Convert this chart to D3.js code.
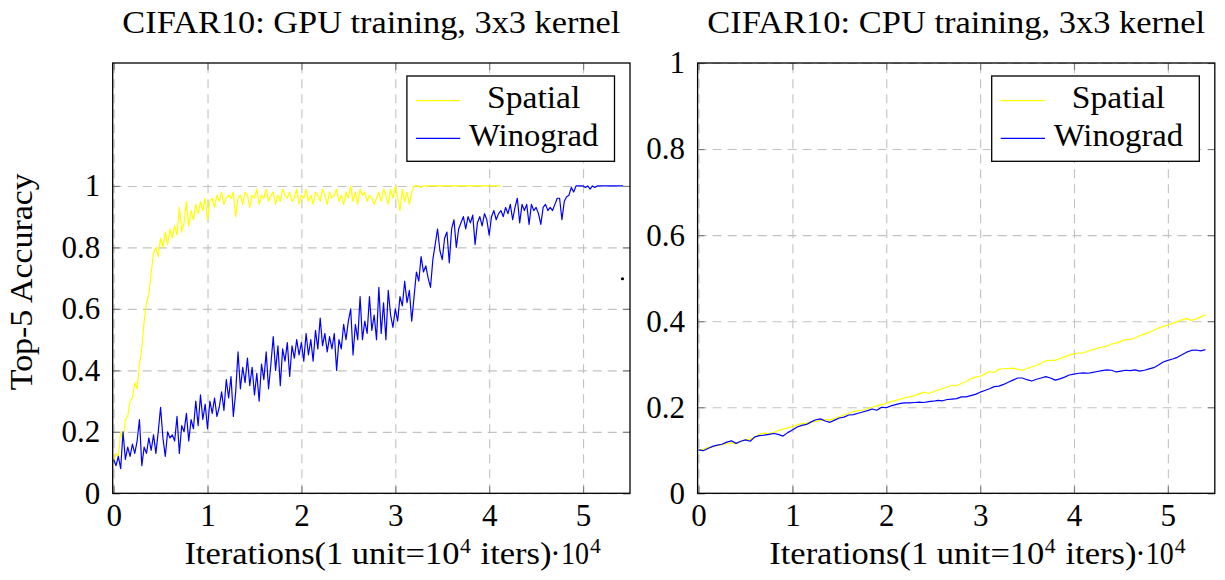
<!DOCTYPE html>
<html><head><meta charset="utf-8">
<script src="https://cdn.jsdelivr.net/npm/d3@7"></script>
<style>
body{margin:0;background:#fff;}
svg{display:block;}
svg text{font-family:"Liberation Serif","Times New Roman","DejaVu Serif",serif !important;fill:#000;}
</style></head><body>
<svg id="chart" width="1225" height="580" font-family="Liberation Serif, serif"></svg>
<script>
// ---------- data ----------
const titles = ["CIFAR10: GPU training, 3x3 kernel", "CIFAR10: CPU training, 3x3 kernel"];
const yAxisLabel = "Top-5 Accuracy";
const xAxisLabel = ["Iterations(1 unit=10", "4", "iters)"];
const xScaleLabel = ["\u00B7", "10", "4"];
const seriesNames = ["Spatial", "Winograd"];
const seriesColors = ["#ffff00", "#0000ff"];
const xTicks = [0, 1, 2, 3, 4, 5];
const xTickLabels = ["0", "1", "2", "3", "4", "5"];
const yTicks = [0, 0.2, 0.4, 0.6, 0.8, 1];
const yTickLabels = ["0", "0.2", "0.4", "0.6", "0.8", "1"];
// x spacing of samples (units of 10^4 iterations)
const gpuStep = 0.025;
const cpuStep = 0.05;

const gpuSpatial = [
 0.10,0.13,0.12,0.20,0.17,0.24,0.25,0.30,0.31,0.36,
 0.34,0.42,0.47,0.56,0.62,0.65,0.72,0.78,0.80,0.77,
 0.83,0.80,0.85,0.81,0.86,0.83,0.87,0.84,0.93,0.85,
 0.88,0.95,0.87,0.92,0.89,0.94,0.91,0.95,0.92,0.96,
 0.89,0.95,0.96,0.93,0.97,0.95,0.98,0.94,0.96,0.97,
 0.96,0.98,0.90,0.96,0.97,0.94,0.98,0.97,0.93,0.97,
 0.96,0.99,0.94,0.97,0.96,0.99,0.95,0.97,0.98,0.94,
 0.97,0.95,0.99,0.97,0.96,0.98,0.95,0.96,0.99,0.94,
 0.97,0.96,0.99,0.95,0.97,0.94,0.98,0.97,0.95,0.99,
 0.97,0.94,0.98,0.96,0.97,0.99,0.95,0.97,0.94,0.98,
 0.96,1.00,0.95,0.98,0.94,0.99,0.97,0.98,0.95,0.97,
 0.96,0.94,0.96,0.98,0.95,0.99,0.97,0.94,0.99,0.96,
 1.00,0.96,0.92,0.99,0.95,0.98,0.94,0.98,1.00,1.00,
 1.00,0.995,1.00,1.00,1.00,1.00,1.00,1.00,1.00,1.00,
 1.00,1.00,1.00,1.00,1.00,1.00,1.00,1.00,1.00,1.00,
 1.00,1.00,1.00,1.00,1.00,1.00,1.00,1.00,1.00,1.00,
 1.00,1.00,1.00,1.00,1.00,1.00
];

const gpuWinograd = [
 0.11,0.09,0.12,0.08,0.20,0.11,0.15,0.12,0.16,0.13,
 0.17,0.24,0.09,0.15,0.13,0.18,0.14,0.19,0.13,0.20,
 0.28,0.18,0.12,0.20,0.18,0.19,0.17,0.25,0.13,0.22,
 0.20,0.26,0.17,0.24,0.21,0.30,0.22,0.32,0.24,0.29,
 0.21,0.30,0.26,0.31,0.25,0.28,0.33,0.27,0.37,0.31,
 0.38,0.25,0.33,0.46,0.34,0.41,0.36,0.44,0.35,0.41,
 0.32,0.39,0.30,0.42,0.37,0.46,0.34,0.42,0.51,0.40,
 0.48,0.35,0.47,0.43,0.49,0.38,0.48,0.44,0.50,0.45,
 0.49,0.43,0.52,0.45,0.50,0.43,0.53,0.47,0.57,0.48,
 0.52,0.46,0.51,0.47,0.52,0.40,0.50,0.47,0.55,0.50,
 0.56,0.60,0.45,0.55,0.50,0.64,0.50,0.56,0.52,0.64,
 0.53,0.58,0.50,0.67,0.52,0.62,0.50,0.66,0.58,0.54,
 0.60,0.56,0.64,0.61,0.69,0.62,0.66,0.56,0.64,0.72,
 0.69,0.77,0.72,0.74,0.70,0.67,0.76,0.81,0.86,0.79,
 0.76,0.83,0.85,0.75,0.86,0.89,0.80,0.86,0.88,0.90,
 0.86,0.90,0.88,0.905,0.81,0.88,0.90,0.87,0.91,0.89,
 0.84,0.90,0.92,0.89,0.91,0.92,0.90,0.93,0.91,0.94,
 0.89,0.93,0.96,0.88,0.94,0.92,0.94,0.875,0.94,0.92,
 0.93,0.91,0.875,0.93,0.94,0.92,0.93,0.92,0.94,0.96,
 0.96,0.89,0.95,0.965,0.97,0.995,0.98,1.00,1.00,1.00,
 1.00,0.995,1.00,0.99,1.00,0.995,1.00,1.00,1.00,1.00,
 1.00,1.00,1.00,1.00,1.00,1.00,1.00,1.00
];

const cpuSpatial = [
 0.100,0.102,0.106,0.108,0.111,0.113,0.116,0.117,0.115,0.120,
 0.124,0.126,0.131,0.137,0.140,0.139,0.141,0.146,0.149,0.152,
 0.155,0.159,0.162,0.163,0.165,0.167,0.170,0.171,0.170,0.174,
 0.178,0.182,0.186,0.190,0.192,0.193,0.197,0.200,0.203,0.206,
 0.209,0.213,0.216,0.219,0.222,0.224,0.227,0.231,0.235,0.232,
 0.236,0.240,0.243,0.247,0.251,0.250,0.255,0.260,0.266,0.270,
 0.272,0.277,0.283,0.281,0.288,0.290,0.290,0.291,0.288,0.286,
 0.290,0.294,0.297,0.302,0.308,0.309,0.309,0.313,0.317,0.321,
 0.324,0.326,0.326,0.330,0.334,0.337,0.340,0.342,0.347,0.349,
 0.353,0.357,0.358,0.361,0.366,0.370,0.374,0.379,0.384,0.388,
 0.391,0.395,0.399,0.403,0.406,0.402,0.405,0.410,0.414
];

const cpuWinograd = [
 0.101,0.099,0.104,0.109,0.112,0.114,0.119,0.122,0.116,0.121,
 0.124,0.121,0.131,0.134,0.135,0.137,0.139,0.137,0.133,0.141,
 0.147,0.154,0.158,0.160,0.166,0.171,0.173,0.168,0.165,0.170,
 0.175,0.177,0.182,0.183,0.186,0.189,0.192,0.196,0.193,0.200,
 0.199,0.203,0.206,0.209,0.210,0.210,0.211,0.212,0.211,0.213,
 0.214,0.216,0.215,0.218,0.219,0.220,0.224,0.224,0.227,0.230,
 0.235,0.239,0.243,0.248,0.249,0.253,0.258,0.263,0.268,0.268,
 0.264,0.261,0.265,0.268,0.271,0.268,0.263,0.266,0.270,0.275,
 0.277,0.279,0.280,0.279,0.281,0.283,0.285,0.287,0.286,0.282,
 0.284,0.286,0.285,0.287,0.284,0.286,0.289,0.292,0.298,0.305,
 0.309,0.312,0.316,0.322,0.328,0.332,0.333,0.331,0.334
];
// stray mark present in the original left panel (data coordinates)
const strayMark = [5.42, 0.698];

// ---------- layout ----------
const svg = d3.select("#chart");
const FS = 31;
const FONT = "Liberation Serif, Times New Roman, serif";
const panels = [
  {title: titles[0], L: 112.7, R: 630, T: 63, B: 493.3, yMax: 1.4,
   series: [gpuSpatial, gpuWinograd], step: gpuStep, showYLabel: true, stray: true},
  {title: titles[1], L: 697.6, R: 1214.8, T: 63, B: 493.3, yMax: 1,
   series: [cpuSpatial, cpuWinograd], step: cpuStep, showYLabel: false, stray: false}
];

function txt(sel) { return sel.append("text").attr("font-family", FONT).attr("fill", "#000"); }

panels.forEach((p, pi) => {
  const g = svg.append("g");
  const x = d3.scaleLinear().domain([-0.01, 5.5]).range([p.L, p.R]);
  const y = d3.scaleLinear().domain([0, p.yMax]).range([p.B, p.T]);
  const W = p.R - p.L, H = p.B - p.T;

  // grid
  const gx = g.append("g").attr("transform", `translate(0,${p.B})`)
    .call(d3.axisBottom(x).tickValues(xTicks).tickSize(-H).tickFormat(""));
  const gy = g.append("g").attr("transform", `translate(${p.L},0)`)
    .call(d3.axisLeft(y).tickValues(yTicks).tickSize(-W).tickFormat(""));
  [gx, gy].forEach(a => {
    a.select(".domain").remove();
    a.selectAll("line").attr("stroke", "#c2c2c2").attr("stroke-width", 1.1)
      .attr("stroke-dasharray", "9,6");
  });

  // tick marks (inside, all four sides)
  const tk = 7;
  const tickAxes = [
    [d3.axisBottom(x).tickValues(xTicks), `translate(0,${p.B})`],
    [d3.axisTop(x).tickValues(xTicks), `translate(0,${p.T})`],
    [d3.axisLeft(y).tickValues(yTicks), `translate(${p.L},0)`],
    [d3.axisRight(y).tickValues(yTicks), `translate(${p.R},0)`]
  ];
  tickAxes.forEach(([ax, tr]) => {
    const a = g.append("g").attr("transform", tr).call(ax.tickSize(-tk).tickFormat(""));
    a.select(".domain").remove();
    a.selectAll("line").attr("stroke", "#808080").attr("stroke-width", 1.2);
  });

  // clip
  const cid = "clip" + pi;
  svg.append("clipPath").attr("id", cid).append("rect")
    .attr("x", p.L).attr("y", p.T).attr("width", W).attr("height", H);

  // series
  const line = d3.line().x((d, i) => x(i * p.step)).y(d => y(d));
  p.series.forEach((s, si) => {
    g.append("path").datum(s).attr("clip-path", `url(#${cid})`)
      .attr("fill", "none").attr("stroke", seriesColors[si])
      .attr("stroke-width", 1.2).attr("stroke-linejoin", "round")
      .attr("d", line);
  });

  if (p.stray) {
    g.append("circle").attr("cx", x(strayMark[0])).attr("cy", y(strayMark[1]))
      .attr("r", 1.6).attr("fill", "#000");
  }

  // frame
  g.append("rect").attr("x", p.L).attr("y", p.T).attr("width", W).attr("height", H)
    .attr("fill", "none").attr("stroke", "#000").attr("stroke-width", 1.3);

  // tick labels
  const xl = g.append("g").attr("transform", `translate(0,${p.B})`)
    .call(d3.axisBottom(x).tickValues(xTicks).tickSize(0).tickPadding(11)
      .tickFormat((d, i) => xTickLabels[i]));
  const yl = g.append("g").attr("transform", `translate(${p.L},0)`)
    .call(d3.axisLeft(y).tickValues(yTicks).tickSize(0).tickPadding(12.5)
      .tickFormat((d, i) => yTickLabels[i]));
  [xl, yl].forEach(a => {
    a.select(".domain").remove();
    a.attr("font-size", FS).attr("font-family", FONT);
    a.selectAll("text").attr("fill", "#000").attr("font-family", FONT);
  });

  // legend
  const lx = p.R - 223.1, ly = 76, lw = 207.6, lh = 85.3;
  const leg = g.append("g");
  leg.append("rect").attr("x", lx).attr("y", ly).attr("width", lw).attr("height", lh)
    .attr("fill", "#fff").attr("stroke", "#000").attr("stroke-width", 1.3);
  const legLen = [93.3, 129.3];
  seriesNames.forEach((nm, si) => {
    const yy = ly + 24.7 + si * 37.6;
    leg.append("line").attr("x1", lx + 9).attr("x2", lx + 53.3)
      .attr("y1", yy).attr("y2", yy).attr("stroke", seriesColors[si]).attr("stroke-width", 1.3);
    txt(leg).attr("x", lx + 126.8).attr("y", ly + 32.3 + si * 37.7)
      .attr("text-anchor", "middle").attr("font-size", FS)
      .attr("textLength", legLen[si]).attr("lengthAdjust", "spacingAndGlyphs").text(nm);
  });

  // title
  txt(g).attr("x", (p.L + p.R) / 2).attr("y", 33.3)
    .attr("text-anchor", "middle").attr("font-size", FS)
    .attr("textLength", 498).attr("lengthAdjust", "spacingAndGlyphs").text(p.title);

  // x axis label
  const bx = p.L + 71.7, by = 564;
  txt(g).attr("x", bx).attr("y", by).attr("font-size", FS)
    .attr("textLength", 275).attr("lengthAdjust", "spacingAndGlyphs").text(xAxisLabel[0]);
  txt(g).attr("x", bx + 275.5).attr("y", by - 11.5).attr("font-size", FS * 0.7)
    .text(xAxisLabel[1]);
  txt(g).attr("x", bx + 296.2).attr("y", by).attr("font-size", FS)
    .attr("textLength", 70.9).attr("lengthAdjust", "spacingAndGlyphs").text(xAxisLabel[2]);
  txt(g).attr("x", bx + 371).attr("y", by).attr("font-size", FS)
    .attr("text-anchor", "middle").text(xScaleLabel[0]);
  txt(g).attr("x", bx + 376.5).attr("y", by).attr("font-size", FS)
    .attr("textLength", 28).attr("lengthAdjust", "spacingAndGlyphs").text(xScaleLabel[1]);
  txt(g).attr("x", bx + 405.5).attr("y", by - 11.5).attr("font-size", FS * 0.7)
    .text(xScaleLabel[2]);

  if (p.showYLabel) {
    txt(g).attr("transform", `translate(31.7,281.7) rotate(-90)`)
      .attr("text-anchor", "middle").attr("font-size", FS)
      .attr("textLength", 217).attr("lengthAdjust", "spacingAndGlyphs").text(yAxisLabel);
  }
});
</script>
</body></html>
